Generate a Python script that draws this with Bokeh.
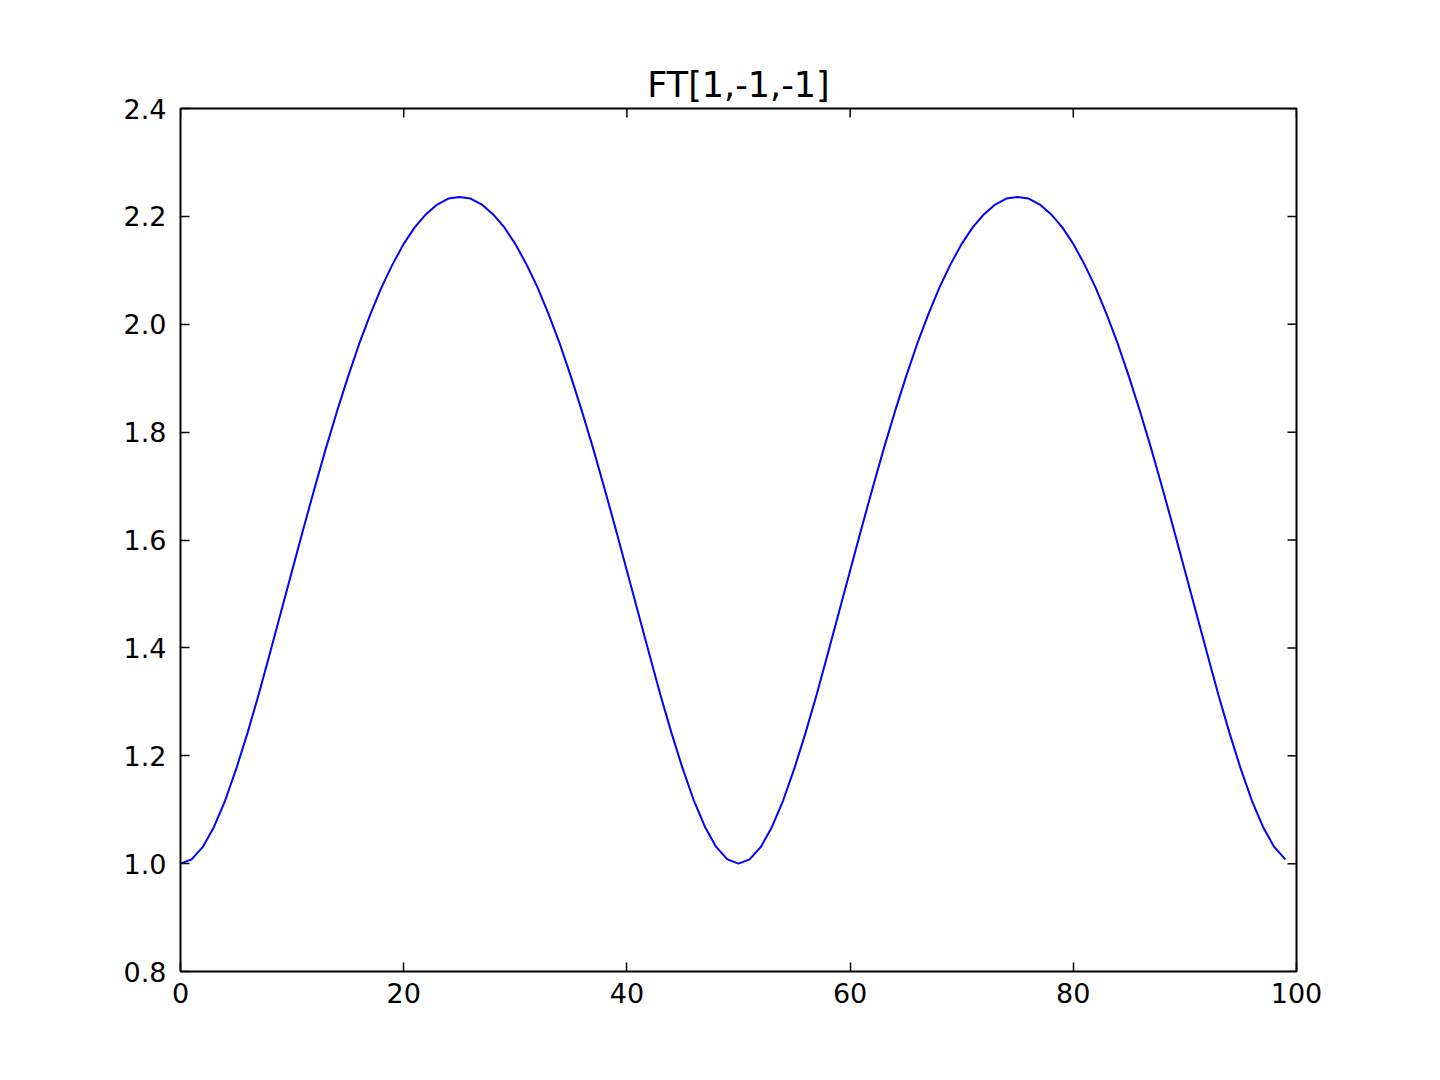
import math
from bokeh.plotting import figure
from bokeh.models import Range1d, FixedTicker, LinearAxis
from bokeh.embed import file_html
from bokeh.resources import INLINE

# Data: magnitude at x = 0..99
x_vals = list(range(100))
y_vals = [
    1.000, 1.008, 1.031, 1.068, 1.117, 1.176, 1.242, 1.313, 1.389, 1.466,
    1.543, 1.620, 1.695, 1.768, 1.837, 1.902, 1.963, 2.018, 2.068, 2.111,
    2.149, 2.180, 2.204, 2.222, 2.233, 2.236, 2.233, 2.222, 2.204, 2.180,
    2.149, 2.111, 2.068, 2.018, 1.963, 1.902, 1.837, 1.768, 1.695, 1.620,
    1.543, 1.466, 1.389, 1.313, 1.242, 1.176, 1.117, 1.068, 1.031, 1.008,
    1.000, 1.008, 1.031, 1.068, 1.117, 1.176, 1.242, 1.313, 1.389, 1.466,
    1.543, 1.620, 1.695, 1.768, 1.837, 1.902, 1.963, 2.018, 2.068, 2.111,
    2.149, 2.180, 2.204, 2.222, 2.233, 2.236, 2.233, 2.222, 2.204, 2.180,
    2.149, 2.111, 2.068, 2.018, 1.963, 1.902, 1.837, 1.768, 1.695, 1.620,
    1.543, 1.466, 1.389, 1.313, 1.242, 1.176, 1.117, 1.068, 1.031, 1.008,
]
x_ticks = [0, 20, 40, 60, 80, 100]
x_tick_labels = ["0", "20", "40", "60", "80", "100"]
y_ticks = [0.8, 1.0, 1.2, 1.4, 1.6, 1.8, 2.0, 2.2, 2.4]
y_tick_labels = ["0.8", "1.0", "1.2", "1.4", "1.6", "1.8", "2.0", "2.2", "2.4"]
title_text = "FT[1,-1,-1]"

X_MIN, X_MAX = 0, 100
Y_MIN, Y_MAX = 0.8, 2.4

FONT = "DejaVu Sans"
TICK_FS = "27px"
TICK_LEN = 9

p = figure(width=1420, height=1060, output_backend="svg", toolbar_location=None,
           x_range=Range1d(X_MIN, X_MAX), y_range=Range1d(Y_MIN, Y_MAX),
           min_border_left=180, min_border_right=124,
           min_border_top=108, min_border_bottom=89,
           x_axis_location=None, y_axis_location=None)

p.title.text = title_text
p.title.text_font = FONT
p.title.text_font_size = "35px"
p.title.text_font_style = "normal"
p.title.align = "center"
p.title.text_color = "black"
p.title.standoff = 8

p.grid.visible = False
p.outline_line_color = "black"
p.outline_line_width = 2
p.outline_line_alpha = 1.0
p.background_fill_color = "white"
p.border_fill_color = "white"

def make_axis(ticks, labels, standoff):
    ax = LinearAxis(ticker=FixedTicker(ticks=ticks))
    ax.major_label_overrides = {t: l for t, l in zip(ticks, labels)}
    ax.major_tick_in = TICK_LEN
    ax.major_tick_out = 0
    ax.major_tick_line_width = 1.5
    ax.major_tick_line_color = "black"
    ax.minor_tick_line_color = None
    ax.axis_line_color = None
    ax.major_label_text_font = FONT
    ax.major_label_text_font_size = TICK_FS
    ax.major_label_text_color = "black"
    ax.major_label_standoff = standoff
    return ax

p.add_layout(make_axis(x_ticks, x_tick_labels, 11), "below")
p.add_layout(make_axis(y_ticks, y_tick_labels, 14), "left")

# inward tick marks on the top and right edges (no labels)
p.ray(x=x_ticks, y=[Y_MAX] * len(x_ticks), length=TICK_LEN, length_units="screen",
      angle=-math.pi / 2, line_color="black", line_width=1.5)
p.ray(x=[X_MAX] * len(y_ticks), y=y_ticks, length=TICK_LEN, length_units="screen",
      angle=math.pi, line_color="black", line_width=1.5)

p.line(x_vals, y_vals, line_color="#0000ff", line_width=2)

open("out.html", "w").write(file_html(p, INLINE))
